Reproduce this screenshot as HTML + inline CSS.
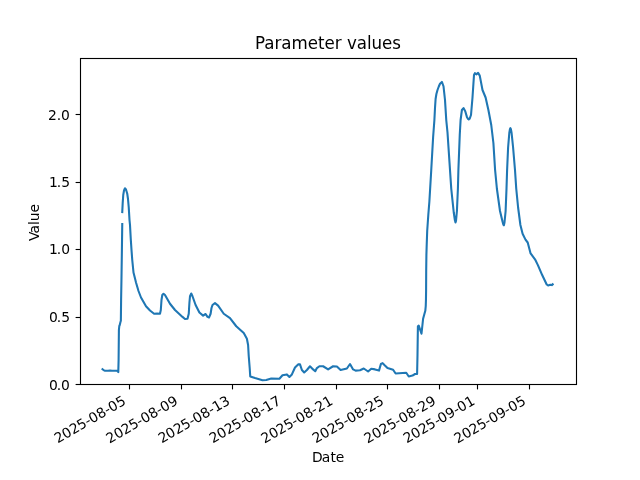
<!DOCTYPE html>
<html lang="en"><head><meta charset="utf-8"><title>Parameter values</title>
<style>html,body{margin:0;padding:0;background:#fff;overflow:hidden}svg{display:block}text{font-family:"DejaVu Sans","Liberation Sans",sans-serif;fill:#000}</style></head>
<body>
<svg width="640" height="480" viewBox="0 0 640 480">
<rect width="640" height="480" fill="#fff"/>
<g id="curve">
<path d="M102.5 369.2 L103.5 370.1 L105 370.7 L108 370.8 L110 370.6 L112 370.8 L114 370.7 L116 370.8 L117.9 370.9 L118.3 372.1 L118.6 360 L118.9 330 L119.3 326 L119.75 325 L120.4 322.3 L120.85 320.8 L121.1 300 L121.45 280 L121.9 250 L122.25 224.1" fill="none" stroke="#1f77b4" stroke-width="2.083" stroke-linejoin="round" stroke-linecap="square"/>
<path d="M122.25 212.1 L122.7 203 L123.25 195 L124 190.5 L125 188.3 L126 189.5 L127.25 193.75 L128 199 L128.75 207.5 L129.5 220 L130 225 L130.75 238.75 L131.5 250 L132.25 260 L133.5 272.5 L135.4 280 L136 282.5 L138.5 291 L141 297.5 L146 306.25 L150 310.5 L154.1 313.75 L157 313.5 L160 313.75 L160.8 310 L161.5 300 L162.3 295 L163.5 293.75 L165 295 L170 303.75 L175 310 L182.5 316.9 L185 319 L187.5 318.75 L188.75 313.75 L189.4 303 L190 296.25 L191.25 293.5 L192.5 296.25 L195.6 305 L199.4 312.5 L203.1 315.6 L205.6 314 L207.5 316.9 L209 317.5 L210.6 313.75 L211.5 308 L212.5 305 L215 303.1 L218.1 305.6 L223.75 313.75 L230 318.1 L236.25 326.25 L243.75 333.1 L246.9 338.75 L248.1 345 L248.75 356.25 L249.75 368.75 L250.25 376.5 L255 378.1 L262.5 380.25 L266.25 380 L271.25 378.5 L279.4 378.75 L282.5 375.25 L286.9 374.4 L289.4 376.9 L291.9 374.4 L295 367.5 L298.1 364.4 L300 364.4 L301.9 370 L304.2 372.5 L306.9 370 L310 366.25 L313.1 369.4 L315.25 371.25 L316.9 368.1 L319.4 366.25 L323.1 366.25 L328.1 369.4 L333.1 366.25 L336.9 366.5 L340.6 370 L346.9 368.5 L350 364 L353.1 369.4 L355.6 370.6 L360 370.25 L363.75 368.5 L368.1 371.5 L371.25 368.75 L375 369.4 L379 370.6 L380.9 364 L382.6 363.1 L384.4 365 L387.5 368.1 L393.1 369.75 L395.6 373.5 L406.25 372.75 L408.75 376.5 L412.5 375.6 L415 374 L417.1 374 L417.5 355 L417.9 326.25 L418.75 325.6 L421.5 333.75 L423.1 318.75 L424.6 313.3 L425.3 310.8 L425.75 306 L425.95 300 L426.1 290 L426.2 270 L426.4 255 L426.7 245 L427.2 231 L428.3 215 L429.4 201.25 L431.25 170 L433.1 137.5 L434.4 120 L435 108 L435.6 99 L436.4 94 L437.5 90 L438.8 86.5 L440 83.75 L441.9 81.9 L443.5 86.25 L445 100 L446.25 120 L447.5 132.5 L450 170 L451.25 188.75 L453.75 212.5 L454.9 220.3 L455.5 222.5 L456 221 L456.9 211.25 L457.9 188.75 L458.4 170 L459.75 135 L460.6 120 L461.9 110 L463.5 108.1 L465.25 111.25 L466.9 116.9 L467.9 118.7 L468.75 119.5 L469.6 118.8 L471 115 L472.5 97.5 L474 75 L475 73.1 L476.25 74.4 L478.1 72.9 L479.75 75.6 L482.5 90 L485.6 97.5 L488.4 110 L491.25 125 L493.4 143 L495.1 170 L496.9 188.75 L500 211 L502.5 221.5 L503.4 224.8 L503.9 225.3 L504.5 222.5 L505.6 211.25 L506.5 188.75 L507.1 170 L508.1 147.5 L509.3 133 L509.9 129.3 L510.4 128.2 L510.9 129.3 L511.6 133 L513.1 147.5 L515 170 L516.25 188.75 L518.1 207.5 L520.4 225 L522.6 233.75 L525.5 239.6 L527.7 242.5 L530.6 253.4 L535 259.3 L537.9 265.1 L542.3 275.3 L546.7 284.5 L548.1 285.5 L550.3 284.8 L551.8 285.1 L552.7 284.3" fill="none" stroke="#1f77b4" stroke-width="2.083" stroke-linejoin="round" stroke-linecap="square"/>
</g>
<g id="ticks" stroke="#000" stroke-width="1.111">
<line x1="129.5" y1="384.5" x2="129.5" y2="389.4"/>
<line x1="181.5" y1="384.5" x2="181.5" y2="389.4"/>
<line x1="232.5" y1="384.5" x2="232.5" y2="389.4"/>
<line x1="284.5" y1="384.5" x2="284.5" y2="389.4"/>
<line x1="336.5" y1="384.5" x2="336.5" y2="389.4"/>
<line x1="387.5" y1="384.5" x2="387.5" y2="389.4"/>
<line x1="439.5" y1="384.5" x2="439.5" y2="389.4"/>
<line x1="477.5" y1="384.5" x2="477.5" y2="389.4"/>
<line x1="529.5" y1="384.5" x2="529.5" y2="389.4"/>
<line x1="80.5" y1="384.5" x2="75.6" y2="384.5"/>
<line x1="80.5" y1="317.5" x2="75.6" y2="317.5"/>
<line x1="80.5" y1="249.5" x2="75.6" y2="249.5"/>
<line x1="80.5" y1="182.5" x2="75.6" y2="182.5"/>
<line x1="80.5" y1="114.5" x2="75.6" y2="114.5"/>
</g>
<rect x="80.5" y="58.5" width="496" height="326" fill="none" stroke="#000" stroke-width="1.111" stroke-linejoin="miter"/>
<text id="xl0" transform="translate(57.3 443.72) rotate(-30)" font-size="13.889" x="0.5 9.06 18.14 26.47 35.3 40.06 48.89 57.72 62.47 71.55">2025-08-05</text>
<text id="xl1" transform="translate(109.4 443.72) rotate(-30)" font-size="13.889" x="0 9.06 17.64 26.47 34.8 40.06 48.89 57.22 62.47 71.3">2025-08-09</text>
<text id="xl2" transform="translate(161.25 443.72) rotate(-30)" font-size="13.889" x="0.5 9.06 18.14 26.47 35.3 40.06 49.14 57.72 62.97 71.55">2025-08-13</text>
<text id="xl3" transform="translate(212.35 443.72) rotate(-30)" font-size="13.889" x="0.5 9.06 18.14 26.47 35.8 40.06 48.89 57.72 62.47 71.55">2025-08-17</text>
<text id="xl4" transform="translate(264.45 443.72) rotate(-30)" font-size="13.889" x="0 9.06 17.64 26.22 34.8 39.81 48.89 57.22 62.47 71.3">2025-08-21</text>
<text id="xl5" transform="translate(315.3 443.72) rotate(-30)" font-size="13.889" x="0.5 9.06 18.14 26.47 35.3 40.06 48.89 57.72 62.47 71.55">2025-08-25</text>
<text id="xl6" transform="translate(367.4 443.72) rotate(-30)" font-size="13.889" x="0 9.06 17.64 26.47 34.8 40.06 48.89 57.22 62.47 71.3">2025-08-29</text>
<text id="xl7" transform="translate(406.35 443.72) rotate(-30)" font-size="13.889" x="0.5 9.06 18.14 26.47 35.8 40.06 48.89 57.72 62.47 71.55">2025-09-01</text>
<text id="xl8" transform="translate(457.45 443.72) rotate(-30)" font-size="13.889" x="0 9.06 17.64 26.22 34.8 39.81 48.89 57.22 62.47 71.3">2025-09-05</text>
<text id="yl0" transform="translate(70.03 389.53)" font-size="13.889" x="-21.08 -13.27 -9.09">0.0</text>
<text id="yl1" transform="translate(70.78 321.53)" font-size="13.889" x="-21.83 -14.02 -9.59">0.5</text>
<text id="yl2" transform="translate(70.03 253.53)" font-size="13.889" x="-21.08 -13.27 -8.84">1.0</text>
<text id="yl3" transform="translate(70.28 186.53)" font-size="13.889" x="-21.33 -13.52 -9.09">1.5</text>
<text id="yl4" transform="translate(69.78 119.53)" font-size="13.889" x="-21.83 -13.02 -8.84">2.0</text>
<text id="xlab" transform="translate(328 461.58)" font-size="13.889" x="-16.09 -6.16 2.59 7.79">Date</text>
<text id="ylab" transform="translate(38.5 222.8) rotate(-90)" font-size="13.889" x="-18.3 -10.65 -2.15 1.46 10.26">Value</text>
<text id="title" transform="translate(328 48.52) scale(1 1.07)" font-size="16.667" x="-73.07 -63.78 -53.58 -46.73 -36.51 -20.29 -10.05 -3.52 6.73 13.58 18.88 28.73 38.94 43.57 54.12 64.38">Parameter values</text>
</svg>
</body></html>
